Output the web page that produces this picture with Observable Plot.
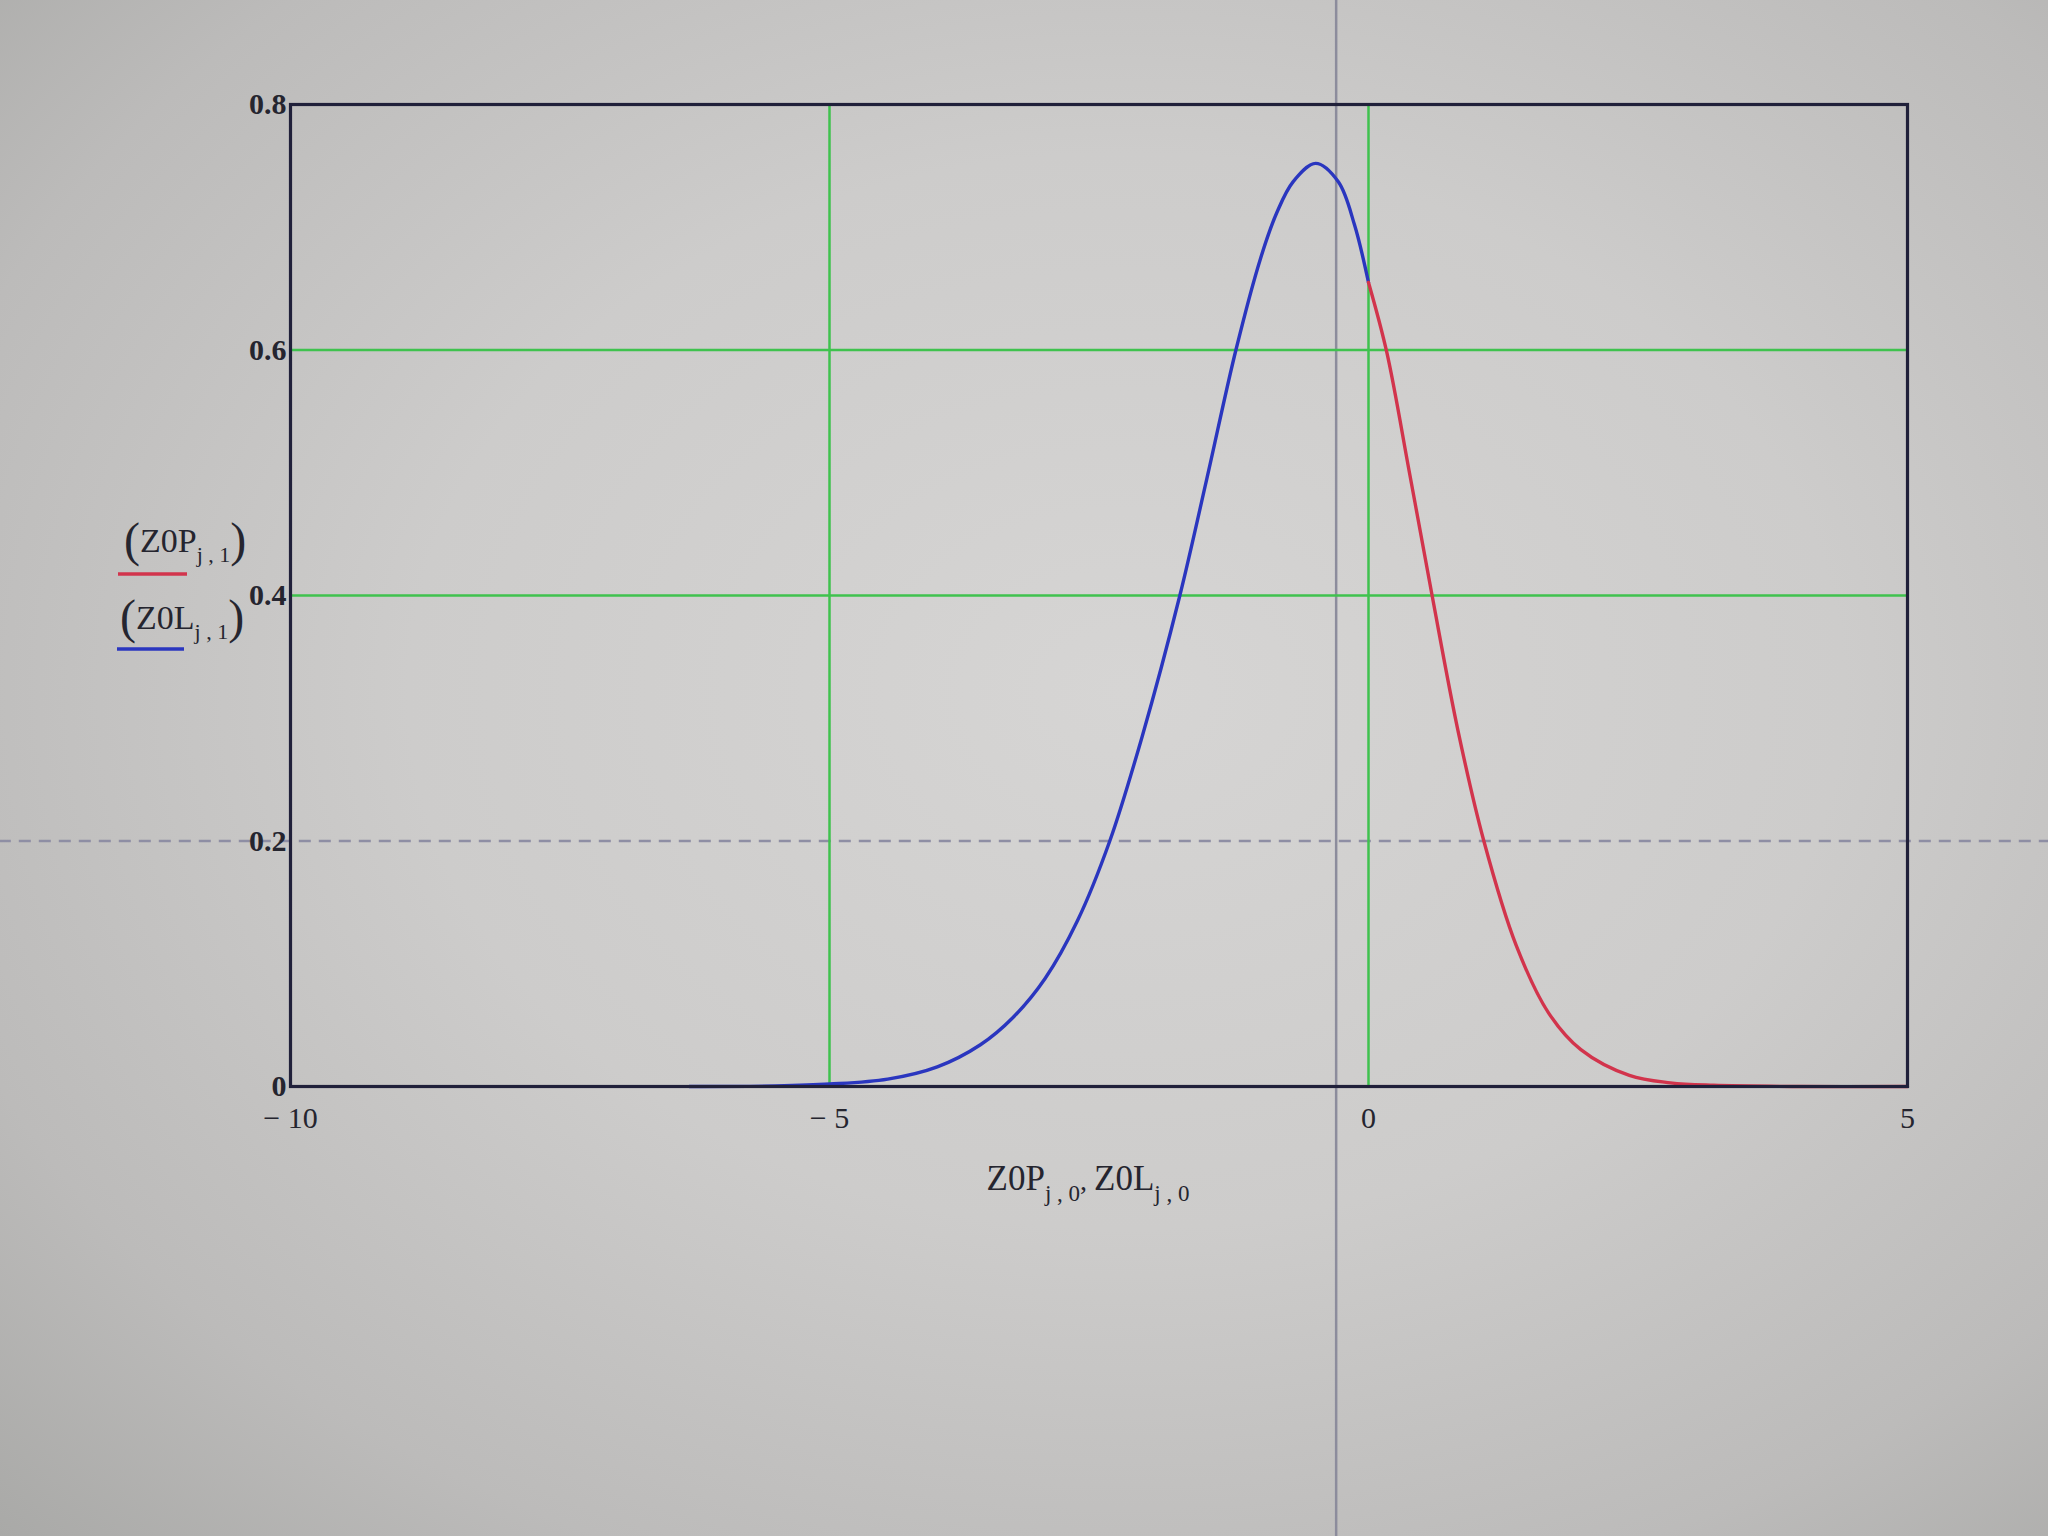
<!DOCTYPE html>
<html>
<head>
<meta charset="utf-8">
<script src="https://cdn.jsdelivr.net/npm/d3@7"></script>
<script src="https://cdn.jsdelivr.net/npm/@observablehq/plot@0.6"></script>
<style>
  html, body { margin: 0; padding: 0; }
  body {
    width: 2048px; height: 1536px; overflow: hidden;
    background: radial-gradient(ellipse at 55% 45%, #d6d5d4 0%, #cdcccb 45%, #bcbbba 78%, #a9a9a7 100%);
  }
  #chart { position: absolute; left: 0; top: 0; }
</style>
</head>
<body>
<div id="chart"></div>
<script>
// ---- data ----
// Z0L (blue) : column 0 = x, column 1 = density
const z0lX = [-6.3, -5.5, -5, -4.46, -4.0, -3.6, -3.3, -3.0, -2.7, -2.4, -2.1, -1.75, -1.5, -1.23, -1.0, -0.85, -0.7, -0.49, -0.28, -0.13, 0];
const z0lY = [0, 0.0005, 0.002, 0.006, 0.016, 0.034, 0.056, 0.088, 0.135, 0.2, 0.285, 0.4, 0.495, 0.6, 0.675, 0.712, 0.737, 0.752, 0.737, 0.702, 0.655];
// Z0P (red)
const z0pX = [0, 0.17, 0.38, 0.59, 0.83, 1.07, 1.37, 1.67, 1.97, 2.42, 2.8, 3.2, 4, 5];
const z0pY = [0.655, 0.598, 0.5, 0.4, 0.29, 0.2, 0.115, 0.06, 0.03, 0.009, 0.003, 0.001, 0, 0];

const xTicks = [-10, -5, 0, 5];
const yTicks = [0, 0.2, 0.4, 0.6, 0.8];
const gridX = [-5, 0];
const gridY = [0.4, 0.6];
// screen artefacts visible in the photo
const cursorX = [-0.3];
const dashedY = [0.2];

const z0l = z0lX.map((x, i) => ({x, y: z0lY[i]}));
const z0p = z0pX.map((x, i) => ({x, y: z0pY[i]}));

const W = 2048, H = 1536;
const mL = 290, mR = 141, mT = 104, mB = 450;

const plot = Plot.plot({
  width: W, height: H,
  marginLeft: mL, marginRight: mR, marginTop: mT, marginBottom: mB,
  style: {background: "transparent", fontFamily: "'Liberation Serif', 'DejaVu Serif', serif", fontSize: "30px", color: "#25252f"},
  x: {domain: [-10, 5]},
  y: {domain: [0, 0.8]},
  marks: [
    Plot.ruleX(cursorX, {x: d => d, y1: () => -1.0, y2: () => 1.2, stroke: "#8c8c9c", strokeWidth: 2.5}),
    Plot.ruleY(dashedY, {y: d => d, x1: () => -14, x2: () => 9, stroke: "#8e8ea4", strokeWidth: 2.5, strokeDasharray: "12,8"}),
    Plot.ruleX(gridX, {stroke: "#3fc24e", strokeWidth: 2.5}),
    Plot.ruleY(gridY, {stroke: "#3fc24e", strokeWidth: 2.5}),
    Plot.line(z0l, {x: "x", y: "y", stroke: "#2a36bf", strokeWidth: 3.4, curve: "catmull-rom"}),
    Plot.line(z0p, {x: "x", y: "y", stroke: "#d2344c", strokeWidth: 3.4, curve: "catmull-rom"}),
    Plot.frame({stroke: "#20203a", strokeWidth: 3.2}),
    Plot.axisX({ticks: xTicks, tickSize: 0, tickPadding: 20, label: null,
      tickFormat: d => d < 0 ? "\u2212 " + Math.abs(d) : String(d), fontSize: 30}),
    Plot.axisY({ticks: yTicks, tickSize: 0, tickPadding: 4, label: null,
      tickFormat: d => d === 0 ? "0" : d.toFixed(1), fontSize: 30, fontWeight: "bold"})
  ]
});
document.getElementById("chart").appendChild(plot);

const svg = d3.select(plot);
const ink = "#25252f";
const serif = "'Liberation Serif', 'DejaVu Serif', serif";

function mathLabel(x, y, anchor, pieces) {
  const t = svg.append("text").attr("x", x).attr("y", y)
    .attr("text-anchor", anchor).attr("fill", ink)
    .style("font-family", serif);
  let shift = 0;
  for (const [txt, size, off] of pieces) {
    const dy = off - shift;
    shift = off;
    t.append("tspan").attr("font-size", size).attr("dy", dy).text(txt);
  }
  return t;
}

// legend (y-axis label) with line samples
mathLabel(124, 552, "start", [["(", 48, 4], ["Z0P", 34, 0], ["j , 1", 22, 10], [")", 48, 4]]);
svg.append("line").attr("x1", 118).attr("x2", 187).attr("y1", 574).attr("y2", 574)
  .attr("stroke", "#d2344c").attr("stroke-width", 3.5);
mathLabel(120, 629, "start", [["(", 48, 4], ["Z0L", 34, 0], ["j , 1", 22, 10], [")", 48, 4]]);
svg.append("line").attr("x1", 117).attr("x2", 184).attr("y1", 649).attr("y2", 649)
  .attr("stroke", "#2a36bf").attr("stroke-width", 3.5);

// x-axis label
mathLabel(1088, 1190, "middle", [["Z0P", 35, 0], ["j , 0", 23, 11], [", ", 28, 0], ["Z0L", 35, 0], ["j , 0", 23, 11]]);
</script>
</body>
</html>
